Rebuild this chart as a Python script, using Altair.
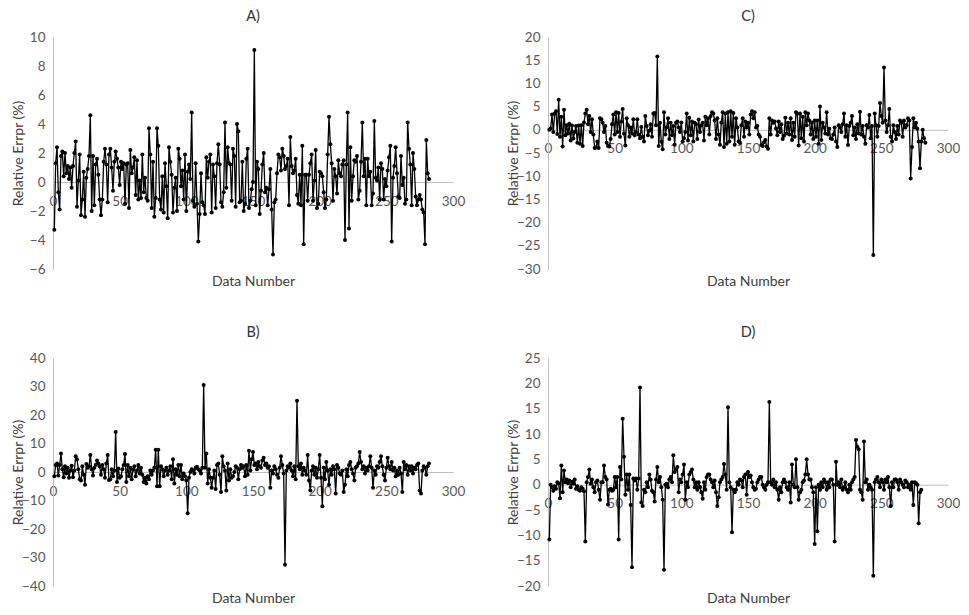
import altair as alt
import pandas as pd

# ---------------- data ----------------
err_a = [
    -3.3, 1.3, 2.4, -0.7, -1.9, 1.8, 2.1, 0.4, 2.0, 0.6, 1.1, 0.2, 1.0, -0.4, 1.1, 2.0, 2.8, -1.7, 0.1, 1.9,
    -2.3, -1.2, 0.7, -2.4, 0.3, 0.9, 1.8, 4.6, -2.0, 1.8, -1.6, 1.2, 1.6, 0.5, -1.2, -2.3, -1.2, 1.4, 2.3, 1.2,
    -1.4, 1.9, 2.3, 1.0, -0.6, 1.4, 2.1, 1.6, 1.0, -0.2, 1.4, 0.9, 1.3, -1.5, 1.2, 1.3, -1.8, 2.2, 0.6, 1.0,
    1.7, -0.9, 1.5, -1.2, 0.1, -1.1, 1.9, -0.7, 0.3, -1.1, -1.3, 3.7, 1.9, -1.8, 1.4, -2.4, -1.1, 3.7, 2.5, -1.2,
    -1.9, 0.4, -2.1, 1.3, -0.3, -2.5, 2.4, 1.4, 0.5, -2.1, -0.4, 0.3, -2.0, 2.3, 1.6, -0.3, 0.8, -1.2, 1.9, -2.0,
    0.7, 1.2, 0.2, 4.8, -1.3, -1.7, 1.3, -1.5, -4.1, -2.2, 0.6, -1.4, -1.6, -2.2, 1.7, 0.3, 1.4, 1.9, -2.1, 1.2,
    0.4, -1.8, 1.3, 2.6, 1.2, -1.4, -1.7, -0.7, 4.1, -0.4, 2.4, 1.3, 1.2, -1.3, 2.3, 1.8, -1.7, 4.0, 3.5, -1.4,
    -1.3, 1.4, -2.0, -1.5, 1.6, 2.3, -1.8, -1.3, -0.5, 0.0, 9.1, -1.6, 1.4, 0.9, -2.2, -0.6, 1.2, 2.0, -0.7, -0.4,
    -1.6, -0.5, 0.9, -1.9, -5.0, -1.4, -1.2, 0.6, 1.9, 1.7, 0.8, 2.3, 1.8, 0.9, 1.1, 1.6, -1.6, 3.1, 1.1, 0.6,
    0.8, 1.6, -0.9, -1.5, 0.5, -1.6, 2.5, -4.3, 0.5, 0.5, -1.3, 0.5, 1.3, 1.9, -1.3, 0.1, 2.2, -1.8, -1.5, 0.7,
    0.6, 0.4, -0.7, -1.8, -1.2, 1.9, 4.5, 2.6, 1.3, -1.3, 0.9, 0.4, -0.8, 1.5, 0.6, 0.4, 1.2, 1.5, -4.0, 1.2,
    4.8, -3.2, 2.4, -1.3, 0.4, 1.5, 1.4, 1.8, -1.2, -0.6, 1.4, 4.1, 0.4, 1.6, -1.6, 1.6, 0.4, 0.7, -1.6, -0.8,
    4.2, 0.3, 0.1, 1.0, -1.2, 1.3, 0.9, -1.2, 0.2, -0.3, 0.8, 1.7, 2.5, -4.1, 0.3, 1.1, 2.4, 0.6, -1.0, -1.1,
    1.8, -0.2, 0.3, -1.5, -1.2, 4.1, 2.3, 1.2, -1.6, 2.0, 0.9, -1.0, -1.6, -1.2, -0.9, -1.2, -1.9, -2.1, -4.3, 2.9,
    0.6, 0.2,
]

err_c = [
    0.0, 0.3, 3.3, -0.5, 3.5, 4.0, -0.9, 6.5, -1.5, 2.8, -3.6, 4.3, -1.2, 1.0, -0.8, 1.3, -2.3, 0.9, -1.9, -0.5,
    0.8, -2.8, 0.9, -3.0, 1.0, -3.5, 1.6, 3.5, 4.3, 1.2, 3.0, -0.5, 2.3, -1.0, -3.9, -3.8, -2.5, -3.9, 2.5, 2.3,
    1.5, -0.5, 0.8, -2.8, -3.5, -3.6, -2.0, 1.2, 3.3, -1.0, 3.8, -0.5, 3.6, -1.5, 1.8, 4.5, -0.8, -3.4, 2.5, 1.0,
    -1.5, 0.5, -0.8, 2.3, -1.2, -0.5, 2.3, -1.0, -1.8, 0.6, -1.5, -2.5, 3.0, 0.8, -1.2, -0.2, 1.2, -1.5, 3.5, 3.6,
    1.0, 15.8, -3.5, 1.5, -2.6, -4.2, 3.8, -1.0, 0.5, 2.5, -2.0, 1.5, -1.2, 0.8, -3.2, 1.5, 1.8, 0.5, -0.5, 1.6,
    -2.5, -1.8, -0.5, 3.5, -2.3, 2.6, -1.2, 1.8, -2.5, 1.5, 1.2, -2.0, 2.2, -0.5, 1.0, 1.5, -2.3, 2.8, 1.0, 2.5,
    -1.0, 3.0, 3.8, 3.5, 2.0, -2.0, 2.5, -1.0, -3.2, 1.6, 3.8, -3.7, 3.5, -3.0, 3.8, -2.5, 4.0, -1.5, 3.6, -3.2,
    2.5, 0.5, -2.5, -2.8, 1.0, 2.5, -1.5, 1.8, 0.5, 1.5, -1.0, 3.3, 4.0, 2.5, 3.8, 0.5, 0.8, -1.0, -1.5, -3.3,
    -3.5, -2.7, -2.2, -3.6, -4.1, 2.5, -1.0, 2.0, 1.5, 1.8, 0.3, -1.2, 1.8, -0.5, 1.2, -2.0, -1.3, 2.6, -0.8, 1.5,
    -1.0, 2.5, -2.2, 1.5, -1.5, 3.8, 3.5, -3.4, 3.5, -1.8, 2.8, -2.5, 3.8, 1.0, 3.5, 2.0, -1.0, 1.5, -2.0, 2.0,
    -1.5, 2.0, -3.0, 5.0, -2.2, 1.5, 0.5, -0.8, 3.8, -1.0, 0.2, -1.8, -2.0, -1.0, 0.5, -2.5, -3.7, 1.0, 0.5, -0.5,
    1.2, 3.5, -1.5, 1.0, -3.3, 0.8, 1.5, 3.0, -1.2, 0.5, -2.0, 1.2, -0.8, 3.9, -1.0, 0.8, -1.5, -3.0, 1.0, 0.5,
    3.2, -1.8, 0.8, -27.0, 3.5, 1.0, -1.5, 0.8, 5.8, 3.0, 1.5, 13.4, 2.0, -0.5, 1.0, 4.5, -1.5, -2.5, 1.0, -0.5,
    -2.0, 0.8, -1.0, 2.0, 1.5, -1.5, 2.0, 0.5, 1.0, 2.5, 2.0, -10.5, -3.7, 2.5, 0.5, 1.5, 0.2, -2.5, -8.3, -2.5,
    0.0, -1.8, -2.8,
]

err_b = [
    -1.5, 2.5, 3.0, -1.2, 2.5, 6.5, 1.0, -1.8, 2.0, -0.5, 1.5, -2.0, 0.5, 2.2, -1.8, 0.5, 5.5, 4.5, 1.0, -2.5,
    -3.0, 2.0, -1.0, -4.5, 2.8, 1.5, 2.0, 6.0, 1.0, -1.2, 1.5, 2.5, 4.0, 3.0, 2.0, -1.0, 2.5, 1.0, -2.0, 3.0,
    6.0, -2.8, -2.5, 1.0, -1.5, 0.5, 14.0, -3.5, 1.2, -2.0, -1.5, 1.0, 2.5, 6.3, -3.5, 2.5, -1.5, 1.5, -2.5, 0.8,
    2.0, -1.5, 0.5, 2.5, -0.5, 1.5, -1.0, -3.5, -2.0, -4.0, -1.5, -2.5, 0.5, -1.0, 0.5, 1.5, 7.8, -5.0, 7.8, -5.0,
    2.0, 1.0, -1.5, 0.5, 1.5, -1.0, 0.5, 2.0, -2.5, 4.5, -4.0, 1.0, -1.0, 2.5, -1.5, 2.5, -2.5, -0.5, -1.5, -3.0,
    -14.5, -2.0, 0.0, 1.0, 0.5, -0.5, 1.5, 1.8, 1.0, 0.5, -0.5, 1.5, 30.5, 1.5, 6.5, -4.0, 1.0, -2.0, -5.5, -2.0,
    0.5, -6.0, 2.5, 3.0, -1.0, -7.0, 5.5, 2.0, 0.5, -6.5, 3.0, -3.0, 1.0, -2.0, -1.5, 0.0, 2.0, 1.5, -2.5, 1.0,
    2.5, 1.5, 2.0, -1.5, 2.5, -1.0, 7.5, 0.5, 4.5, 7.0, 2.5, 3.0, 1.0, 3.5, 2.0, 1.5, 4.0, 5.0, 2.5, 3.0,
    1.5, 2.0, -5.5, 0.5, -0.5, 2.0, 1.0, -1.0, -2.0, 1.5, 5.5, 2.5, -0.5, -32.5, 0.5, 2.0, 1.5, 3.0, 0.5, -1.5,
    2.0, -2.5, 25.0, 2.0, 1.0, 3.0, -1.0, 1.5, 0.5, -1.0, 6.0, -3.0, -6.5, 0.5, 2.0, -1.0, 1.5, -2.0, 1.0, 6.0,
    -2.0, -12.0, 1.5, -2.5, 3.5, 0.5, -4.5, 1.0, -1.0, 2.0, 1.0, -7.5, 2.5, 1.5, -0.5, -1.0, 0.5, -7.0, -4.5, 1.0,
    -1.5, 2.5, 3.5, 1.0, -0.5, -3.0, 1.5, 2.0, 3.0, 7.0, 3.5, 1.0, 2.0, -0.5, 1.5, 0.5, 2.0, 5.5, 1.5, -5.5,
    0.5, -1.0, 2.0, 1.5, 3.5, 5.5, 2.0, -1.0, -3.0, 1.5, 5.0, 2.0, 1.0, 3.5, 0.5, 1.5, -1.5, 0.5, -1.0, 1.5,
    -0.5, -7.0, 3.5, 1.0, 2.5, -1.0, 2.0, 0.5, 2.0, -0.5, 1.5, 1.0, 2.5, 3.0, -6.5, -7.5, 0.5, 2.0, 1.5, -1.0,
    2.0, 3.0,
]

err_d = [
    -10.8, 0.0, -0.5, -1.2, -0.3, -0.8, 0.5, 0.3, -2.7, 3.8, -1.5, 2.8, 0.5, 1.0, 0.3, 0.8, -0.5, 0.6, 0.2, 1.0,
    -0.8, -0.3, -1.0, -1.2, -0.5, -0.8, -1.3, -11.2, 0.5, 1.5, 3.0, 0.2, 1.0, -0.5, -1.5, 0.5, 0.8, -1.0, -3.0, 0.5,
    0.5, 3.8, 1.5, 1.0, -3.9, -1.0, -0.8, -1.2, -1.0, 1.5, -0.5, 1.5, -10.8, 3.5, 1.0, 13.0, 5.5, -2.0, 2.0, -1.0,
    2.0, -4.0, -16.3, 1.2, 0.8, 1.2, -1.0, 1.2, 19.2, -3.5, -4.2, -1.0, -1.5, 0.5, -0.5, 2.0, 1.0, -1.2, -1.5, -3.3,
    1.0, 3.5, 0.5, 1.5, -0.5, -3.0, -16.8, 0.0, 0.2, -0.5, 1.0, 1.5, 0.5, 5.8, 2.5, 3.0, 3.5, -1.5, 1.0, 0.5,
    2.0, 4.0, -3.0, 0.5, -0.5, 2.0, 2.5, 3.0, 1.0, -0.5, 0.5, -1.0, 0.5, -0.5, -1.5, -2.8, 0.5, -1.0, 1.5, 2.0,
    2.0, 1.0, 0.5, -0.5, 0.8, -1.5, -4.2, -2.5, 0.5, 1.0, 1.5, 4.1, 2.0, -1.0, 15.3, 0.5, -0.5, -9.4, -1.0, -1.5,
    -1.0, 0.5, 0.0, 1.0, 0.8, -0.5, 1.5, 2.0, -2.0, 2.5, 1.5, 1.8, 0.5, -0.5, -1.0, -0.8, 0.5, 1.0, 1.5, 1.5,
    0.0, -0.5, -1.0, 0.0, 0.5, 16.3, 0.5, 0.0, 1.0, -0.5, 0.5, -1.0, -3.0, -0.5, -1.5, 0.5, 1.0, 0.5, -0.5, -1.0,
    0.5, -3.5, 4.0, 0.0, -0.5, 5.0, -0.5, -3.0, -1.5, -1.0, 0.5, 0.8, 2.0, 5.0, 2.0, 1.0, 1.0, -0.5, -1.5, -11.7,
    -0.5, -9.2, 0.0, -1.0, 0.5, -0.5, 1.0, 0.5, -1.0, 0.5, -0.5, 1.0, 1.0, 0.0, -11.2, 4.5, 0.0, 0.5, -0.5, 1.0,
    -1.0, -0.5, 0.5, -1.0, -1.5, 0.0, -1.0, 0.5, 1.0, 1.5, 8.8, 7.5, 7.0, -1.0, -1.5, -3.0, 8.5, 0.5, 1.0, -1.0,
    0.0, -0.5, -1.0, -18.0, 0.5, 1.0, 1.5, 0.5, -0.5, 1.0, 0.5, -1.0, 1.0, 0.5, 1.5, -0.5, -4.2, 0.5, -0.5, 1.0,
    1.0, 0.5, -1.0, 1.0, 0.5, 0.0, -0.5, 0.8, 0.5, -0.5, 0.0, -1.0, 0.5, -4.0, 0.5, 0.3, 0.0, -7.6, -1.5, -1.0,
]

x_ticks = [0, 50, 100, 150, 200, 250, 300]
panels = {
    "A)": (err_a, -6, 10, 2),
    "C)": (err_c, -30, 20, 5),
    "B)": (err_b, -40, 40, 10),
    "D)": (err_d, -20, 25, 5),
}

W = 400
FONT = "Lato"
AXIS_GREY = "#bfbfbf"
TEXT_GREY = "#595959"


def panel(name, height, title_offset):
    vals, ymin, ymax, ystep = panels[name]
    df = pd.DataFrame({"n": list(range(1, len(vals) + 1)), "err": vals})
    zero_px = height * (0 - ymin) / (ymax - ymin)  # distance of y=0 from the bottom
    x_enc = alt.X(
        "n:Q",
        scale=alt.Scale(domain=[0, 300], nice=False, zero=False),
        axis=alt.Axis(
            values=x_ticks, format="d", offset=-zero_px, grid=False, ticks=False,
            domainColor=AXIS_GREY, domainWidth=1, labelPadding=12, labelFlush=False,
            labelOverlap=False, labelColor=TEXT_GREY, labelFontSize=13.5,
            title="Data Number", titleY=zero_px + 5, titleBaseline="top",
            titleFontSize=14, titleFontWeight="normal", titleColor="#404040",
        ),
    )
    y_enc = alt.Y(
        "err:Q",
        scale=alt.Scale(domain=[ymin, ymax], nice=False, zero=False),
        axis=alt.Axis(
            values=list(range(ymin, ymax + 1, ystep)), format="d", grid=False, ticks=False,
            domainColor=AXIS_GREY, domainWidth=1, labelPadding=8, labelColor=TEXT_GREY,
            labelFontSize=13.5, title="Relative Errpr (%)", titleX=-35, titleBaseline="middle",
            titleFontSize=14, titleFontWeight="normal", titleColor="#404040",
        ),
    )
    base = alt.Chart(df).encode(x=x_enc, y=y_enc)
    line = base.mark_line(color="black", strokeWidth=1.3)
    pts = base.mark_circle(color="black", size=16, opacity=1)
    return (line + pts).properties(
        width=W, height=height,
        title=alt.TitleParams(name, fontSize=14.5, fontWeight="normal", color="#333333",
                              offset=title_offset),
    )


top = alt.hconcat(panel("A)", 232, 6), panel("C)", 232, 6), spacing=41)
bottom = alt.hconcat(panel("B)", 228, 11), panel("D)", 228, 11), spacing=41)
chart = (
    alt.vconcat(top, bottom, spacing=36)
    .properties(padding={"left": 3, "top": 0, "right": 0, "bottom": 0})
    .configure_view(stroke=None)
    .configure_axis(labelFont=FONT, titleFont=FONT)
    .configure_title(font=FONT)
)

chart.save("out.html", embed_options={"renderer": "svg", "actions": False})
